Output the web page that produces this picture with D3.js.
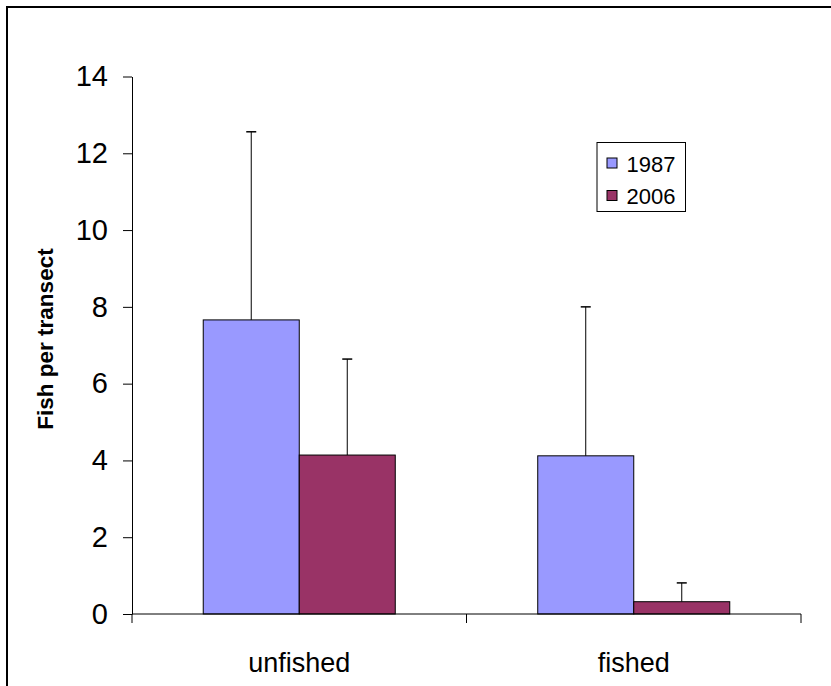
<!DOCTYPE html>
<html>
<head>
<meta charset="utf-8">
<script src="https://cdn.jsdelivr.net/npm/d3@7"></script>
<style>
  html, body { margin: 0; padding: 0; background: #fff; overflow: hidden; }
  svg { display: block; font-family: "Liberation Sans", Arial, sans-serif; }
</style>
</head>
<body>
<svg id="chart" width="831" height="686"></svg>
<script>
// Fish counts per transect, mean with upper error bar
const categories = ["unfished", "fished"];
const seriesNames = ["1987", "2006"];
const means1987 = [7.66, 4.12];
const means2006 = [4.14, 0.32];
const errors1987 = [4.90, 3.88];
const errors2006 = [2.50, 0.49];
const yTicks = [0, 2, 4, 6, 8, 10, 12, 14];
const colors = ["#9999FF", "#993366"];

const series = [
  { name: seriesNames[0], values: means1987, errors: errors1987, color: colors[0] },
  { name: seriesNames[1], values: means2006, errors: errors2006, color: colors[1] }
];

const svg = d3.select("#chart");

// outer frame
svg.append("rect")
  .attr("x", 7).attr("y", 7)
  .attr("width", 900).attr("height", 800)
  .attr("fill", "#fff")
  .attr("stroke", "#000")
  .attr("stroke-width", 2);

const plot = { left: 132, right: 801, top: 76.5, bottom: 614 };

const y = d3.scaleLinear().domain([0, 14]).range([plot.bottom, plot.top]);
const x0 = d3.scaleBand().domain(categories).range([plot.left, plot.right]).padding(0);
const x1 = d3.scaleBand().domain(seriesNames).range([0, x0.bandwidth()])
  .paddingInner(0).paddingOuter(0.742);

// bars
const groups = svg.append("g").selectAll("g")
  .data(categories)
  .join("g")
  .attr("transform", d => `translate(${x0(d)},0)`);

series.forEach(s => {
  groups.append("rect")
    .attr("x", x1(s.name))
    .attr("y", (d, i) => y(s.values[i]))
    .attr("width", x1.bandwidth())
    .attr("height", (d, i) => y(0) - y(s.values[i]))
    .attr("fill", s.color)
    .attr("stroke", "#000")
    .attr("stroke-width", 1);

  // error bars (upper only)
  const cx = x1(s.name) + x1.bandwidth() / 2;
  groups.append("line")
    .attr("x1", cx).attr("x2", cx)
    .attr("y1", (d, i) => y(s.values[i]))
    .attr("y2", (d, i) => y(s.values[i] + s.errors[i]))
    .attr("stroke", "#000").attr("stroke-width", 1);
  groups.append("line")
    .attr("x1", cx - 5).attr("x2", cx + 5)
    .attr("y1", (d, i) => y(s.values[i] + s.errors[i]))
    .attr("y2", (d, i) => y(s.values[i] + s.errors[i]))
    .attr("stroke", "#000").attr("stroke-width", 1.5);
});

// y axis
const yAxis = svg.append("g")
  .attr("transform", `translate(${plot.left},0)`)
  .call(d3.axisLeft(y).tickValues(yTicks).tickSize(9).tickPadding(15).tickSizeOuter(0));
yAxis.select(".domain").attr("stroke", "#000");
yAxis.selectAll(".tick line").attr("stroke", "#000");
yAxis.selectAll(".tick text")
  .attr("font-size", 29)
  .attr("font-family", "Liberation Sans, Arial, sans-serif")
  .attr("fill", "#000");

// x axis: ticks at category boundaries
const xAxisG = svg.append("g");
xAxisG.append("line")
  .attr("x1", plot.left).attr("x2", plot.right)
  .attr("y1", y(0)).attr("y2", y(0))
  .attr("stroke", "#000");
const boundaries = categories.map(c => x0(c)).concat([x0(categories[categories.length - 1]) + x0.bandwidth()]);
xAxisG.selectAll("line.tick")
  .data(boundaries)
  .join("line")
  .attr("class", "tick")
  .attr("x1", d => d).attr("x2", d => d)
  .attr("y1", y(0)).attr("y2", y(0) + 9)
  .attr("stroke", "#000");
xAxisG.selectAll("text")
  .data(categories)
  .join("text")
  .attr("x", d => x0(d) + x0.bandwidth() / 2)
  .attr("y", 672)
  .attr("text-anchor", "middle")
  .attr("font-size", 27)
  .attr("fill", "#000")
  .text(d => d);

// y axis title
svg.append("text")
  .attr("transform", "translate(53,339) rotate(-90)")
  .attr("text-anchor", "middle")
  .attr("font-size", 22.5)
  .attr("font-weight", "bold")
  .attr("fill", "#000")
  .text("Fish per transect");

// legend
const legend = svg.append("g");
legend.append("rect")
  .attr("x", 597).attr("y", 142.5)
  .attr("width", 88.5).attr("height", 69)
  .attr("fill", "#fff").attr("stroke", "#000").attr("stroke-width", 1);
const items = legend.selectAll("g.item")
  .data(series)
  .join("g")
  .attr("class", "item")
  .attr("transform", (d, i) => `translate(0,${i * 32.5})`);
items.append("rect")
  .attr("x", 607).attr("y", 158)
  .attr("width", 10).attr("height", 10)
  .attr("fill", d => d.color)
  .attr("stroke", "#000").attr("stroke-width", 1);
items.append("text")
  .attr("x", 626.5).attr("y", 171.5)
  .attr("font-size", 22)
  .attr("fill", "#000")
  .text(d => d.name);
</script>
</body>
</html>
